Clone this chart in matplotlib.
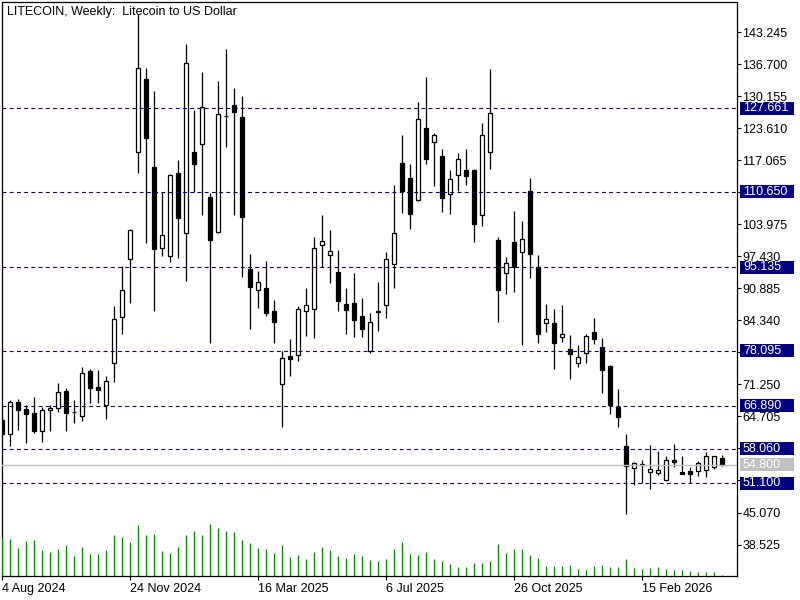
import matplotlib
matplotlib.use('Agg')
import matplotlib.pyplot as plt
import matplotlib.transforms as mtransforms
from matplotlib.patches import Rectangle
import numpy as np
import pandas as pd

plt.rcParams['font.family'] = ['Liberation Sans', 'DejaVu Sans']
plt.rcParams['font.size'] = 9

# weekly LTCUSD candles
opens = [64.0, 61.05, 67.59, 66.22, 65.4, 61.78, 65.95, 66.49, 69.84, 65.6,
         64.79, 73.92, 70.65, 66.97, 75.55, 84.95, 96.97, 118.67, 133.65, 115.67,
         99.05, 97.54, 114.44, 102.12, 118.67, 120.3, 109.47, 102.32, 126.0, 128.27,
         125.82, 94.83, 90.47, 90.94, 86.24, 71.26, 77.05, 77.19, 86.18, 86.59,
         99.67, 97.63, 94.21, 87.67, 87.8, 85.22, 78.13, 86.1, 87.4, 95.78,
         116.48, 113.4, 108.9, 123.57, 120.7, 117.85, 110.09, 113.97, 114.99, 115.12,
         105.8, 118.67, 100.69, 93.94, 100.28, 98.24, 110.7, 95.17, 83.85, 83.73,
         80.99, 78.42, 75.68, 77.72, 81.95, 78.89, 75.0, 66.63, 58.66, 54.1,
         54.85, 53.29, 53.08, 51.77, 55.74, 53.4, 53.55, 53.49, 53.69, 54.3,
         56.2]
highs = [64.5, 68.0, 68.2, 67.0, 68.73, 66.7, 67.0, 71.47, 70.45, 68.06,
         74.86, 74.33, 74.2, 72.96, 87.26, 95.4, 102.9, 147.0, 135.83, 131.2,
         110.6, 114.2, 117.1, 140.9, 127.3, 135.1, 110.4, 133.24, 139.8, 131.75,
         130.2, 97.9, 94.4, 96.46, 88.5, 78.07, 80.5, 87.26, 91.0, 101.3,
         105.9, 102.8, 98.7, 90.94, 94.0, 88.9, 85.8, 92.17, 98.36, 111.99,
         122.2, 116.3, 128.95, 134.1, 122.6, 119.35, 115.05, 118.5, 119.35, 115.3,
         124.6, 135.7, 101.3, 97.2, 106.6, 104.57, 113.4, 97.6, 87.67, 86.65,
         87.47, 81.34, 79.3, 81.54, 84.81, 80.66, 75.27, 70.31, 61.11, 55.39,
         55.8, 58.86, 57.64, 56.6, 59.07, 56.6, 54.43, 55.6, 57.43, 56.6,
         56.9]
lows = [60.8, 58.72, 61.93, 59.2, 61.25, 59.5, 61.8, 65.66, 61.8, 63.3,
        63.83, 67.5, 67.5, 64.24, 71.8, 81.48, 87.82, 114.5, 100.2, 86.3,
        97.5, 96.3, 97.1, 92.4, 110.6, 105.9, 79.8, 102.1, 119.7, 105.9,
        93.25, 82.6, 86.9, 85.3, 79.75, 62.6, 73.0, 76.1, 81.2, 80.8,
        95.17, 92.0, 86.3, 81.55, 81.0, 80.87, 77.7, 82.2, 84.88, 91.0,
        106.3, 102.9, 108.8, 116.34, 111.85, 106.5, 106.1, 110.76, 111.92, 100.28,
        103.67, 115.2, 84.06, 89.78, 90.1, 79.24, 93.05, 79.77, 81.95, 74.4,
        79.97, 72.35, 74.86, 75.68, 79.56, 69.55, 65.2, 62.6, 44.77, 50.75,
        51.2, 49.93, 52.8, 51.57, 54.37, 53.0, 51.2, 52.6, 52.39, 53.9,
        54.6]
closes = [61.1, 67.59, 66.07, 65.26, 61.78, 65.95, 66.5, 69.76, 65.47, 65.55,
          73.51, 70.57, 70.16, 71.88, 84.55, 90.47, 102.79, 135.83, 121.65, 98.97,
          101.7, 114.1, 105.3, 136.85, 116.34, 127.86, 100.68, 126.43, 126.1, 126.97,
          105.39, 91.21, 92.11, 85.9, 84.06, 76.64, 76.38, 86.59, 87.4, 99.05,
          100.49, 98.45, 88.35, 86.5, 84.47, 82.6, 83.93, 86.2, 96.97, 102.18,
          110.76, 106.1, 125.4, 117.36, 122.14, 109.4, 113.15, 117.24, 113.77, 103.96,
          122.14, 126.64, 90.47, 95.99, 95.3, 100.9, 97.83, 81.6, 84.55, 79.77,
          81.5, 77.52, 76.78, 81.13, 80.58, 74.25, 67.04, 64.64, 54.63, 55.18,
          54.92, 53.9, 53.7, 55.74, 55.33, 53.0, 53.0, 55.18, 56.6, 56.6,
          54.8]
volumes = [38, 37, 28, 35, 36, 26, 24, 27, 31, 20,
           29, 22, 22, 26, 41, 39, 34, 51, 41, 42,
           25, 23, 29, 41, 45, 41, 52, 48, 45, 44,
           36, 33, 28, 27, 23, 31, 19, 21, 17, 24,
           29, 26, 20, 18, 22, 20, 16, 15, 17, 27,
           34, 22, 21, 24, 17, 15, 12, 9, 9, 13,
           13, 15, 32, 23, 27, 27, 21, 18, 10, 10,
           10, 11, 7, 6, 10, 11, 9, 9, 17, 8,
           7, 8, 9, 7, 6, 6, 5, 4, 4, 4,
           1]

levels = [127.661, 110.650, 95.135, 78.095, 66.890, 58.060, 51.100]
last_price = 54.800
yticks = [38.525, 45.070, 51.615, 58.160, 64.705, 71.250, 77.795, 84.340, 90.885,
          97.430, 103.975, 110.520, 117.065, 123.610, 130.155, 136.700, 143.245]
hidden_ticks = [51.615, 58.160, 77.795, 110.520]   # sit under the level boxes
xtick_idx = [0, 16, 32, 48, 64, 80]

dates = pd.date_range('2024-08-04', periods=len(opens), freq='7D')
xs = np.arange(len(opens))

fig = plt.figure(figsize=(8, 6), dpi=100)
ax = fig.add_axes([2/800, 24/600, 735/800, 574/600])
ax.set_xlim(-0.04, -0.04 + 735/8)
ax.set_ylim(32.1, 149.38)
ppx = (149.38 - 32.1) / 574   # price per pixel

# volumes in their own scale at the bottom
ax2 = ax.twinx()
ax2.set_ylim(0, 574000)
ax2.vlines(xs, 0, np.array(volumes) * 1000, color='#008000', lw=0.9)
ax2.axis('off')

# candles
for i in xs:
    o, h, l, c = opens[i], highs[i], lows[i], closes[i]
    fc = 'white' if c >= o else 'black'
    ax.vlines(i, l, h, color='black', lw=0.9, zorder=2)
    ax.add_patch(Rectangle((i - 0.25, min(o, c)), 0.5, abs(c - o),
                           fc=fc, ec='black', lw=0.9, zorder=3))

box_trans = mtransforms.blended_transform_factory(fig.transFigure, ax.transData)


def price_box(value, color):
    ax.add_patch(Rectangle((740/800, value - 6.5 * ppx), 54/800, 13 * ppx,
                           transform=box_trans, fc=color, ec='none',
                           zorder=9, clip_on=False))
    ax.text(743/800, value, f'{value:.3f}', transform=box_trans, color='white',
            va='center', ha='left', zorder=10, clip_on=False)


for lvl in levels:
    ax.axhline(lvl, color='#000080', lw=0.8, dashes=(3.5, 3), zorder=4)
    price_box(lvl, '#000080')

ax.axhline(last_price, color='#c0c0c0', lw=1, zorder=4)
price_box(last_price, '#c0c0c0')

ax.yaxis.tick_right()
ax.set_yticks(yticks)
ax.set_yticklabels(['' if v in hidden_ticks else f'{v:.3f}' for v in yticks])
ax.tick_params(axis='y', direction='out', length=3, width=0.8, pad=1, labelsize=9)

ax.set_xticks(xtick_idx)
ax.set_xticklabels([f'{dates[i].day} {dates[i].strftime("%b %Y")}' for i in xtick_idx],
                   ha='left')
ax.tick_params(axis='x', direction='out', length=3, width=0.8, pad=2, labelsize=9)

for sp in ax.spines.values():
    sp.set_linewidth(0.9)

fig.text(7/800, 1 - 12/600, 'LITECOIN, Weekly:  Litecoin to US Dollar',
         fontsize=9, va='center', ha='left')

plt.savefig('out.png', dpi=100)
